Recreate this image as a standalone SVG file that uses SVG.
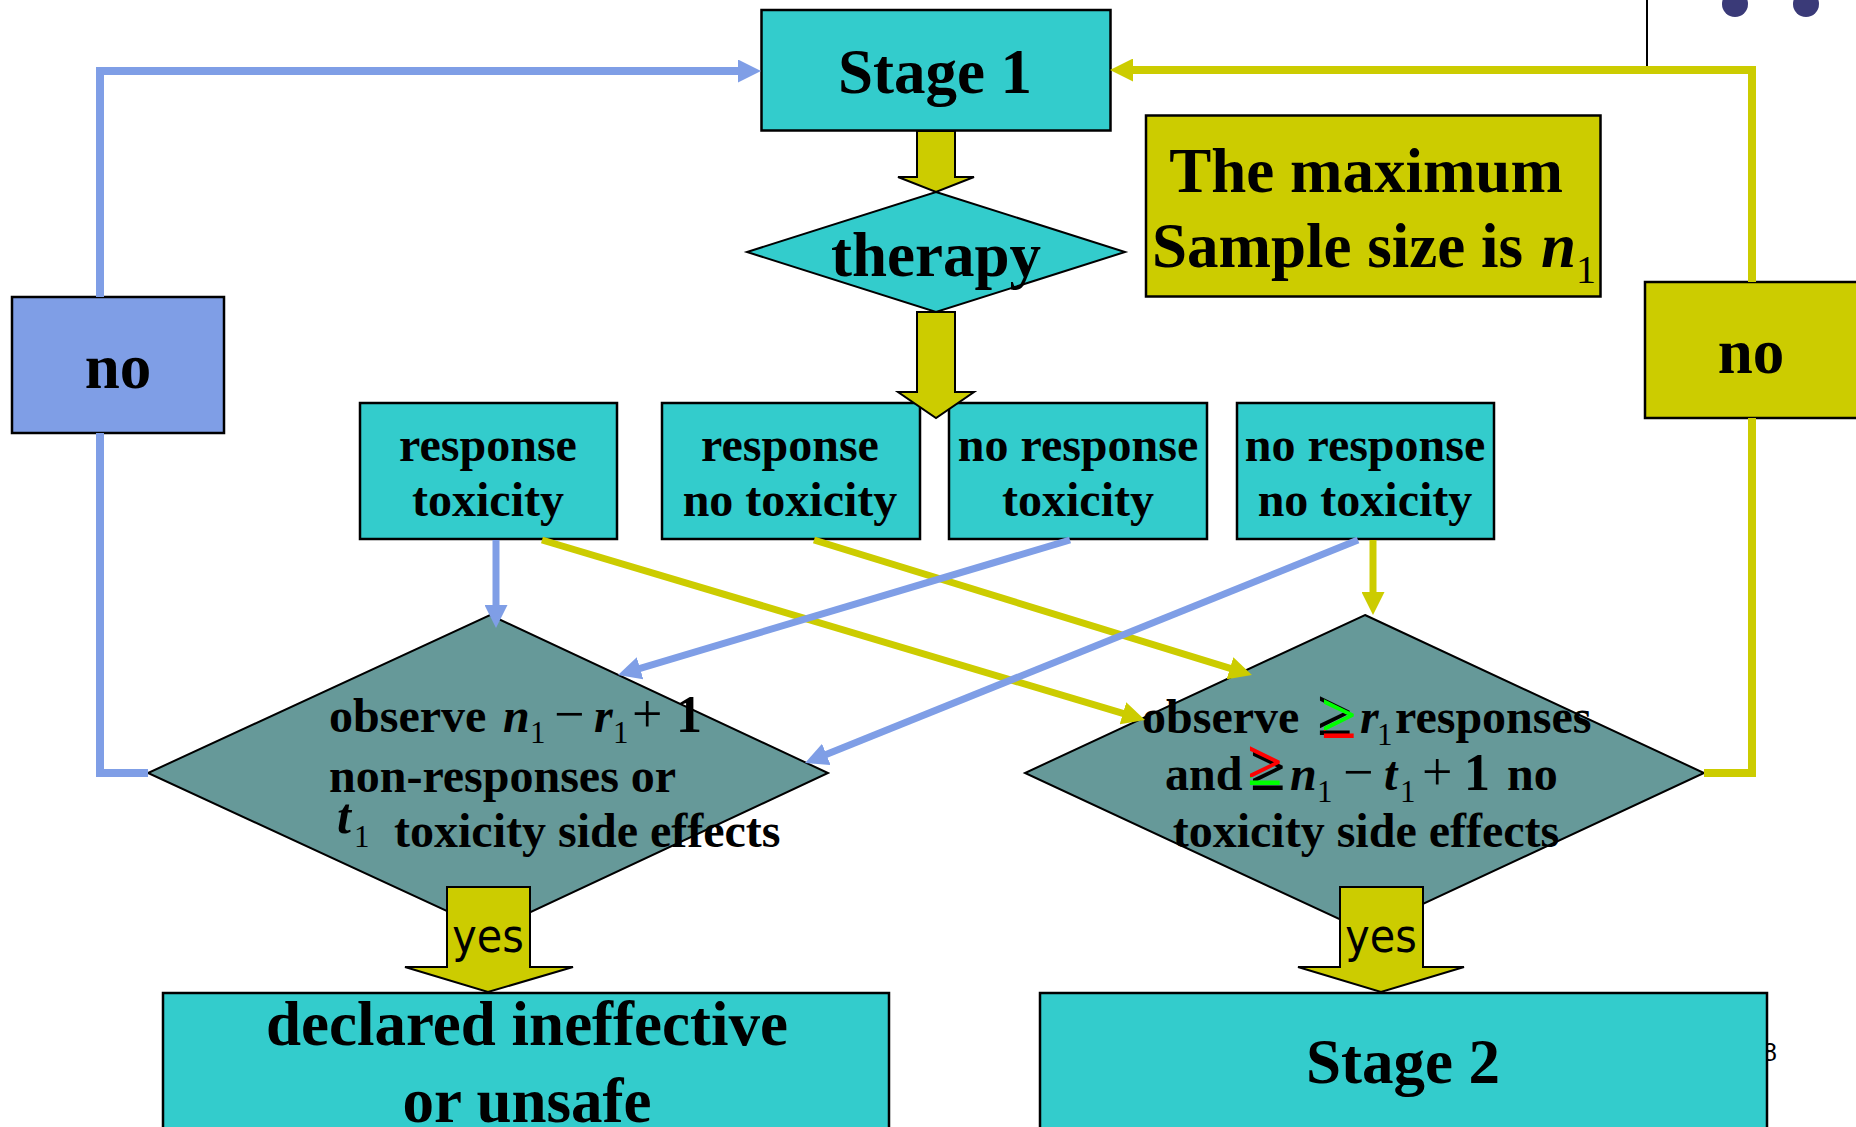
<svg xmlns="http://www.w3.org/2000/svg" width="1856" height="1127" viewBox="0 0 1856 1127">
  <style>
    .box { fill: #33cccc; stroke: #000; stroke-width: 2.5; }
    .dia { fill: #669999; stroke: #000; stroke-width: 2; }
    .dia-c { fill: #33cccc; stroke: #000; stroke-width: 2; }
    .ybox { fill: #cccc00; stroke: #000; stroke-width: 2.5; }
    .bbox { fill: #7f9ee6; stroke: #000; stroke-width: 2.5; }
    .blk { fill: #cccc00; stroke: #000; stroke-width: 2; stroke-linejoin: miter; }
    .lb { fill: none; stroke: #7f9ee6; stroke-width: 7; }
    .ly { fill: none; stroke: #cccc00; stroke-width: 7; }
    .loop { stroke-width: 8; }
    text { font-family: "Liberation Serif", "Times New Roman", serif; font-weight: bold; fill: #000; }
    .t63 { font-size: 63px; }
    .t48 { font-size: 48px; }
    .c { text-anchor: middle; }
    .mi { font-style: italic; font-weight: bold; }
    .sub { font-size: 31px; font-weight: normal; font-style: normal; }
    .op { font-size: 54px; font-weight: normal; }
    .one { font-size: 52px; font-weight: bold; }
    .yes { font-family: "DejaVu Sans Condensed", "DejaVu Sans", sans-serif; font-stretch: condensed; font-weight: normal; font-size: 46px; }
    .pg { font-family: "Liberation Sans", Arial, sans-serif; font-weight: normal; font-size: 25px; }
    .ge { font-size: 64px; font-weight: bold; }
    .ge1 { fill: url(#ge1); }
    .ge2 { fill: url(#ge2); }
  </style>
  <defs>
    <marker id="ah-b" markerUnits="userSpaceOnUse" viewBox="0 0 23 23" markerWidth="23" markerHeight="23" refX="13" refY="11.5" orient="auto">
      <path d="M0,0 L23,11.5 L0,23 z" fill="#7f9ee6"/>
    </marker>
    <marker id="ah-y" markerUnits="userSpaceOnUse" viewBox="0 0 23 23" markerWidth="23" markerHeight="23" refX="13" refY="11.5" orient="auto">
      <path d="M0,0 L23,11.5 L0,23 z" fill="#cccc00"/>
    </marker>
    <!-- two-tone fills for the "greater or equal" signs -->
    <linearGradient id="ge1" gradientUnits="userSpaceOnUse" x1="0" y1="690" x2="0" y2="740">
      <stop offset="0" stop-color="#00ff00"/>
      <stop offset="0.8" stop-color="#00ff00"/>
      <stop offset="0.8" stop-color="#ff0000"/>
      <stop offset="1" stop-color="#ff0000"/>
    </linearGradient>
    <linearGradient id="ge2" gradientUnits="userSpaceOnUse" x1="0" y1="737" x2="0" y2="787">
      <stop offset="0" stop-color="#ff0000"/>
      <stop offset="0.8" stop-color="#ff0000"/>
      <stop offset="0.8" stop-color="#00ff00"/>
      <stop offset="1" stop-color="#00ff00"/>
    </linearGradient>
  </defs>

  <rect width="1856" height="1127" fill="#fff"/>

  <!-- slide furniture: rule and bullets in the corner, page number -->
  <g id="decor">
    <line x1="1647" y1="0" x2="1647" y2="66" stroke="#000" stroke-width="2"/>
    <circle cx="1735" cy="4" r="13" fill="#3a3a78"/>
    <circle cx="1806" cy="4" r="13" fill="#3a3a78"/>
    <text class="pg" x="1763" y="1061">8</text>
  </g>

  <g id="stage1">
    <rect class="box" x="761.5" y="10" width="349" height="120.5"/>
    <text class="t63 c" x="935" y="93">Stage 1</text>
  </g>

  <g id="therapy">
    <polygon class="dia-c" points="936,192 1125,252 936,312 747,252"/>
    <text class="t63 c" x="936" y="276">therapy</text>
  </g>

  <g id="max-note">
    <rect class="ybox" x="1146" y="115.5" width="454.5" height="181"/>
    <text class="t63 c" x="1366" y="192">The maximum</text>
    <text class="t63"><tspan x="1152" y="267">Sample size is </tspan><tspan class="mi" x="1541" y="267">n</tspan><tspan class="sub" style="font-size:40px" x="1576" y="283">1</tspan></text>
  </g>

  <g id="no-left">
    <rect class="bbox" x="12" y="297" width="212" height="136"/>
    <text class="t63 c" x="118" y="388">no</text>
  </g>

  <g id="no-right">
    <rect class="ybox" x="1645" y="282" width="230" height="136"/>
    <text class="t63 c" x="1751" y="373">no</text>
  </g>

  <g id="resp-tox">
    <rect class="box" x="360" y="403" width="257" height="136"/>
    <text class="t48 c" x="488" y="461">response</text>
    <text class="t48 c" x="488" y="516">toxicity</text>
  </g>
  <g id="resp-notox">
    <rect class="box" x="662" y="403" width="258" height="136"/>
    <text class="t48 c" x="790" y="461">response</text>
    <text class="t48 c" x="790" y="516">no toxicity</text>
  </g>
  <g id="noresp-tox">
    <rect class="box" x="949" y="403" width="258" height="136"/>
    <text class="t48 c" x="1078" y="461">no response</text>
    <text class="t48 c" x="1078" y="516">toxicity</text>
  </g>
  <g id="noresp-notox">
    <rect class="box" x="1237" y="403" width="257" height="136"/>
    <text class="t48 c" x="1365" y="461">no response</text>
    <text class="t48 c" x="1365" y="516">no toxicity</text>
  </g>

  <g id="stop-test">
    <polygon class="dia" points="490,615 828,773 490,931 148,773"/>
    <text class="t48" y="732"><tspan x="329">observe</tspan><tspan class="mi" x="503">n</tspan><tspan class="sub" x="530" y="743">1</tspan><tspan class="op" x="554" y="732">−</tspan><tspan class="mi" x="594">r</tspan><tspan class="sub" x="613" y="743">1</tspan><tspan class="op" x="632" y="732">+</tspan><tspan class="one" x="676">1</tspan></text>
    <text class="t48" x="329" y="792">non-responses or</text>
    <text class="t48"><tspan class="mi" style="font-size:50px" x="337" y="833">t</tspan><tspan class="sub" x="354" y="847">1</tspan><tspan x="394" y="847">toxicity side effects</tspan></text>
  </g>

  <g id="go-test">
    <polygon class="dia" points="1365,615 1704,773 1365,931 1025,773"/>
    <text class="t48" x="1142" y="733">observe</text>
    <text class="ge" x="1317" y="735">≥</text>
    <text class="ge ge1" x="1321" y="738">≥</text>
    <text class="t48"><tspan class="mi" x="1360" y="733">r</tspan><tspan class="sub" x="1377" y="745">1</tspan><tspan x="1395" y="733">responses</tspan></text>
    <text class="t48" x="1165" y="790">and</text>
    <text class="ge" x="1250" y="790">≥</text>
    <text class="ge ge2" x="1247" y="785">≥</text>
    <text class="t48" y="790"><tspan class="mi" x="1290">n</tspan><tspan class="sub" x="1317" y="802">1</tspan><tspan class="op" x="1343" y="790">−</tspan><tspan class="mi" x="1384">t</tspan><tspan class="sub" x="1400" y="802">1</tspan><tspan class="op" x="1422" y="790">+</tspan><tspan class="one" x="1464">1</tspan><tspan x="1507">no</tspan></text>
    <text class="t48 c" x="1366" y="847">toxicity side effects</text>
  </g>

  <g id="ineffective">
    <rect class="box" x="163" y="993" width="726" height="150"/>
    <text class="t63 c" x="527" y="1045">declared ineffective</text>
    <text class="t63 c" x="527" y="1122">or unsafe</text>
  </g>

  <g id="stage2">
    <rect class="box" x="1040" y="993" width="727" height="150"/>
    <text class="t63 c" x="1403" y="1083">Stage 2</text>
  </g>

  <g id="connectors">
    <!-- return loops to Stage 1, broken where the "no" labels sit -->
    <path class="lb loop" d="M148,773 H100 V433"/>
    <path class="lb loop" d="M100,297 V71 H751" marker-end="url(#ah-b)"/>
    <path class="ly loop" d="M1704,773 H1752 V418"/>
    <path class="ly loop" d="M1752,282 V70 H1120" marker-end="url(#ah-y)"/>

    <!-- outcome boxes to the two tests -->
    <path class="lb" d="M496,540 V618" marker-end="url(#ah-b)"/>
    <path class="ly" d="M542,540 L1135.4,717.1" marker-end="url(#ah-y)"/>
    <path class="ly" d="M814,540 L1242.4,672.1" marker-end="url(#ah-y)"/>
    <path class="lb" d="M1070,540 L627.6,672.1" marker-end="url(#ah-b)"/>
    <path class="lb" d="M1358,540 L814.3,759.3" marker-end="url(#ah-b)"/>
    <path class="ly" d="M1373,540 V605" marker-end="url(#ah-y)"/>

    <!-- block arrows -->
    <polygon class="blk" points="917,131 955,131 955,177 974,177 936,192 898,177 917,177"/>
    <polygon class="blk" points="917,312 955,312 955,392 974,392 936,418 898,392 917,392"/>
    <polygon class="blk" points="447,887 530,887 530,967 573,967 488,992 405,967 447,967"/>
    <text class="yes c" x="488" y="952">yes</text>
    <polygon class="blk" points="1340,887 1423,887 1423,967 1464,967 1381,992 1298,967 1340,967"/>
    <text class="yes c" x="1381" y="952">yes</text>
  </g>
</svg>
